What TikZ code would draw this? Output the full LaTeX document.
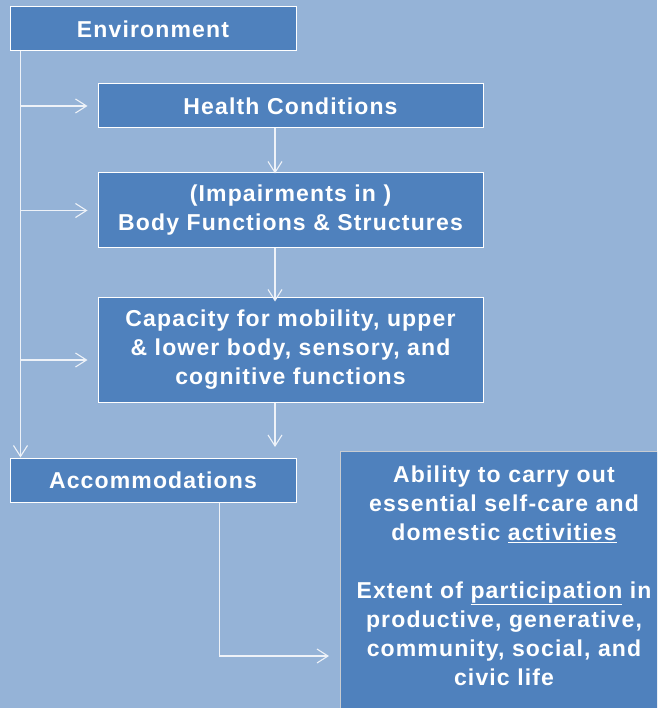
\documentclass[tikz,border=0pt]{standalone}
\usepackage{fontspec}
\setmainfont{Liberation Sans}
\newfontfamily\widefont[LetterSpace=5]{Liberation Sans}
\usetikzlibrary{arrows.meta}
\definecolor{bgblue}{HTML}{95B3D7}
\definecolor{boxblue}{HTML}{4F81BD}
\definecolor{linecol}{HTML}{EEF2F8}
\definecolor{edgegray}{HTML}{C8CCD2}
\tikzset{
  box/.style={draw=white, line width=1pt, fill=boxblue, text=white, align=center,
    font=\widefont\fontsize{23}{29}\selectfont\bfseries, inner sep=0pt},
  txt/.style={text=white, align=center, font=\widefont\fontsize{23}{29}\selectfont\bfseries, inner sep=0pt},
  arr/.style={draw=linecol, line width=1.1pt, -{Straight Barb[length=11pt,width=14pt,line width=1.1pt]}}
}
\begin{document}
\begin{tikzpicture}[x=1pt,y=-1pt]
\useasboundingbox (0,0) rectangle (657,708);
\clip (0,0) rectangle (657,708);
\fill[bgblue] (0,0) rectangle (657,708);
\node[box, minimum width=286pt, minimum height=44pt] (env) at (153,29) {Environment};
\node[box, minimum width=385pt, minimum height=44pt] (health) at (290.5,106) {Health Conditions};
\node[box, minimum width=385pt, minimum height=75pt] (body) at (290.5,210.5) {(Impairments in )\\Body Functions \& Structures};
\node[box, minimum width=385pt, minimum height=105pt] (cap) at (290.5,349.5) {Capacity for mobility, upper\\\& lower body, sensory, and\\cognitive functions};
\node[box, minimum width=286pt, minimum height=44pt] (acc) at (153,480) {Accommodations};
\node[box, draw=edgegray, minimum width=328pt, minimum height=280pt, anchor=north west] (out) at (340,451) {};
\node[txt] (outtext) at (504,575.5) {Ability to carry out\\essential self-care and\\domestic \underline{activities}\\[29pt]Extent of \underline{participation} in\\productive, generative,\\community, social, and\\civic life};
\coordinate (capend) at (275,447);
\coordinate (outin) at (329,656);
% trunk from Environment
\draw[arr] ([xshift=11pt]env.south west) -- ([xshift=11pt]acc.north west);
\draw[arr] ([xshift=11pt]env.south west |- health.west) -- ([xshift=-10pt]health.west);
\draw[arr] ([xshift=11pt]env.south west |- body.west) -- ([xshift=-10pt]body.west);
\draw[arr] ([xshift=11pt]env.south west |- 0,360) -- ([xshift=-10pt]cap.west |- 0,360);
% vertical chain
\draw[arr] ([xshift=-15.5pt]health.south) -- ([xshift=-15.5pt,yshift=-1pt]body.north);
\draw[arr] ([xshift=-15.5pt]body.south) -- ([xshift=-15.5pt,yshift=-5pt]cap.north);
\draw[arr] ([xshift=-15.5pt]cap.south) -- (capend);
% accommodations to outcome
\draw[arr] ([xshift=-77pt]acc.south east) |- (outin);
\end{tikzpicture}
\end{document}
